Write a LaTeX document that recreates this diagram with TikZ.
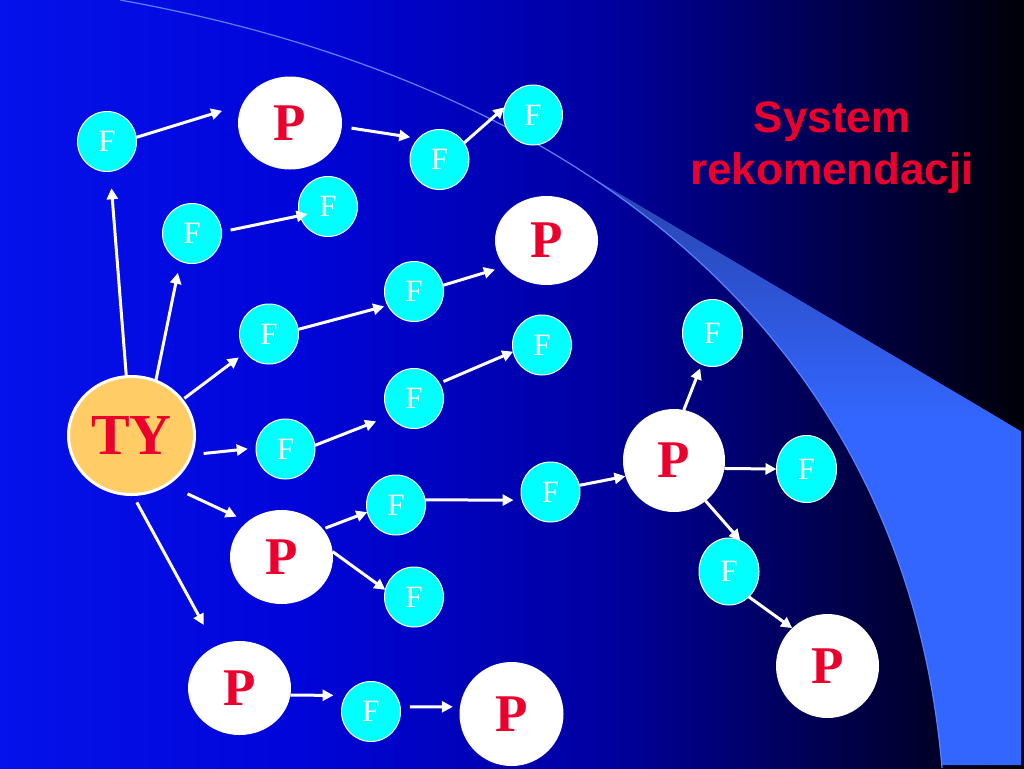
\documentclass[tikz,border=0pt]{standalone}
\usepackage{fontspec}
\setmainfont{Liberation Serif}
\newfontfamily\arialf{Liberation Sans}
\usetikzlibrary{shapes.geometric,arrows.meta}
\definecolor{fcyan}{RGB}{0,255,255}
\definecolor{tyfill}{RGB}{255,204,102}
\definecolor{pred}{RGB}{235,0,45}
\definecolor{bandblue}{RGB}{51,102,255}
\definecolor{bandtip}{RGB}{40,66,170}
\definecolor{arcline}{RGB}{90,130,255}
\pgfdeclarehorizontalshading{bgshade}{100bp}{rgb(0bp)=(0.02,0.07,0.92); rgb(25bp)=(0.02,0.07,0.92); rgb(39.6bp)=(0,0.02,0.85); rgb(54.3bp)=(0,0,0.63); rgb(64.1bp)=(0,0,0.35); rgb(75bp)=(0,0,0.03); rgb(100bp)=(0,0,0.03)}
\tikzset{
  fnode/.style={ellipse, draw=white, line width=1pt, fill=fcyan, minimum width=59pt, minimum height=60pt, inner sep=0pt, outer sep=0pt, text=white, font=\fontsize{31}{31}\selectfont},
  ftall/.style={fnode, minimum width=60pt, minimum height=67pt},
  pnode/.style={ellipse, fill=white, minimum width=103pt, minimum height=93pt, inner sep=0pt, outer sep=0pt, text=pred, font=\bfseries\fontsize{53}{53}\selectfont},
  tynode/.style={ellipse, draw=white, line width=3pt, fill=tyfill, minimum width=126pt, minimum height=118pt, inner sep=0pt, outer sep=0pt, text=pred, font=\bfseries\fontsize{58}{58}\selectfont},
  arr/.style={draw=white, line width=3pt, -{Triangle[length=11pt,width=11pt]}},
  titlestyle/.style={anchor=north, align=center, text=pred, inner sep=0pt, font=\arialf\bfseries\fontsize{44}{52}\selectfont}
}
\begin{document}
\begin{tikzpicture}[x=1pt,y=-1pt]
\useasboundingbox (0,0) rectangle (1024,768);
% background
\shade[shading=bgshade] (0,0) rectangle (1024,768);
% light band
\begin{scope}
  \clip (120,0) .. controls (620,90) and (908,368) .. (942,768) -- (1021,768) -- (1021,0) -- cycle;
  \clip (300,5) -- (1100,478) -- (1100,765) -- (300,765) -- cycle;
  \fill[bandblue] (500,0) rectangle (1024,768);
  \shade[top color=bandtip, bottom color=bandblue] (560,170) rectangle (1024,420);
\end{scope}
\draw[arcline, line width=1.2pt] (120,0) .. controls (620,90) and (908,368) .. (942,768);

% nodes
\node[tynode] (ty) at (131.5,435.5) {TY};
\node[fnode] (fA) at (107,141.5) {F};
\node[pnode, minimum width=104pt] (pA) at (290,123) {P};
\node[fnode] (fB) at (439.5,159.5) {F};
\node[fnode] (fC) at (533,115) {F};
\node[fnode] (fD) at (192,233.5) {F};
\node[fnode] (fE) at (328,206.5) {F};
\node[pnode, minimum height=89pt] (pB) at (546.5,240.5) {P};
\node[fnode] (fF) at (414,291.5) {F};
\node[fnode] (fG) at (269,334) {F};
\node[fnode] (fH) at (542,345) {F};
\node[fnode] (fI) at (414,398.5) {F};
\node[fnode] (fJ) at (285.5,449) {F};
\node[fnode] (fK) at (396,505) {F};
\node[fnode] (fL) at (550.5,492) {F};
\node[pnode, minimum width=102pt, minimum height=103pt] (pC) at (674,460.5) {P};
\node[ftall] (fM) at (712.5,333) {F};
\node[ftall] (fN) at (806.5,469) {F};
\node[ftall] (fO) at (729,571.5) {F};
\node[pnode, minimum height=104pt] (pD) at (827.5,666) {P};
\node[pnode, minimum height=94pt] (pE) at (281.5,557) {P};
\node[fnode] (fP) at (414,597) {F};
\node[pnode, minimum height=94pt] (pF) at (239.5,688) {P};
\node[fnode] (fQ) at (371,711.5) {F};
\node[pnode, minimum width=104pt, minimum height=104pt] (pG) at (511.5,714) {P};

% connectors
\draw[arr, shorten >=21pt] (fA.8) -- (pA.159);
\draw[arr, shorten <=9.8pt, shorten >=8.3pt] (pA.-4) -- (fB.135);
\draw[arr] (fB.34) -- (fC.165);
\draw[arr, shorten <=9.3pt, shorten >=-7.8pt] (fD.3) -- (fE.198);
\draw[arr, shorten >=17pt] (ty.95) -- (fA.276);
\draw[arr, shorten >=12pt] (ty.66) -- (fD.247);
\draw[arr, shorten <=3pt, shorten >=8.5pt] (ty.35) -- (fG.218);
\draw[arr, shorten <=12.7pt, shorten >=8.3pt] (ty.342) -- (fJ.178);
\draw[arr, shorten <=22.7pt, shorten >=12pt] (ty.306) -- (pE.134);
\draw[arr, shorten <=9pt, shorten >=24.4pt] (ty.271) -- (pF.120);
\draw[arr, shorten >=3.8pt] (fG.9) -- (fF.208);
\draw[arr, shorten >=10.3pt] (fF.12) -- (pB.212);
\draw[arr, shorten >=14.9pt] (fJ.7) -- (fI.216);
\draw[arr, shorten <=4.4pt] (fI.31) -- (fH.193);
\draw[arr, shorten <=2.7pt] (pE.34) -- (fK.194);
\draw[arr] (pE.6) -- (fP.166);
\draw[arr, shorten >=8.6pt] (fK.10) -- (fL.196);
\draw[arr] (fL.13) -- (pC.198);
\draw[arr, shorten >=4.4pt] (pC.79) -- (fM.251);
\draw[arr] (pC.351) -- (fN.180);
\draw[arr] (pC.308) -- (fO.70);
\draw[arr] (fO.308) -- (pD.133);
\draw[arr, shorten >=12.6pt] (pF.352) -- (fQ.147);
\draw[arr, shorten <=9.8pt, shorten >=7.2pt] (fQ.9) -- (pG.172);

% title
\node[titlestyle] (title) at (832,102) {System\\rekomendacji};
\end{tikzpicture}
\end{document}
